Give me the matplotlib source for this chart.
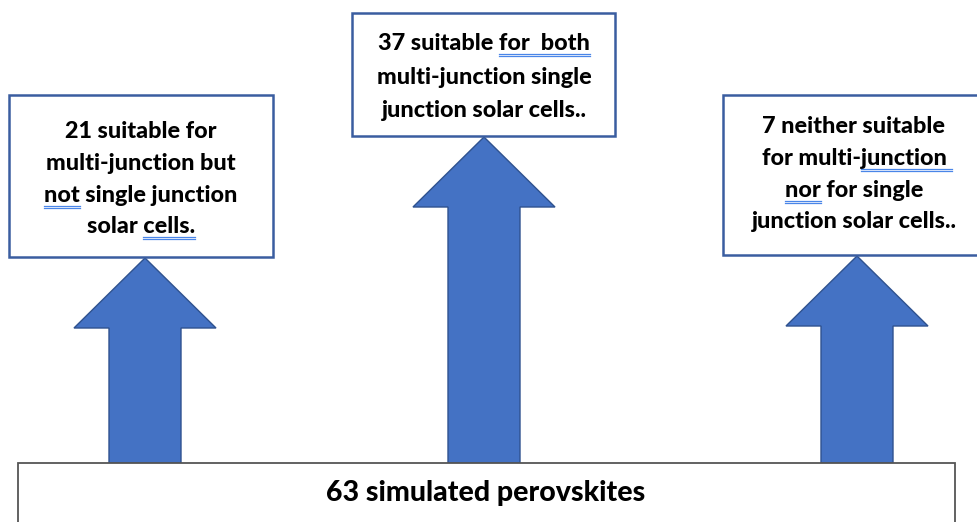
import matplotlib.pyplot as plt
from matplotlib.patches import Rectangle, Polygon
from matplotlib.font_manager import FontProperties

plt.rcParams['font.family'] = ['Lato', 'DejaVu Sans']

# counts of perovskites in each group
total = 63
counts = [21, 37, 7]

box_lines = [
    [f"{counts[0]} suitable for", "multi-junction but", "not single junction", "solar cells."],
    [f"{counts[1]} suitable for  both", "multi-junction single", "junction solar cells.."],
    [f"{counts[2]} neither suitable", "for multi-junction", "nor for single", "junction solar cells.."],
]
base_label = f"{total} simulated perovskites"

# words flagged with the blue double underline: (box, line, word, extra space)
flagged = [(0, 2, "not", 0), (0, 3, "cells.", 0), (1, 0, "for  both", 0),
           (2, 1, "junction", 1), (2, 2, "nor", 0)]

# layout in pixels (y downwards)
boxes = [(9, 95, 273, 257), (352, 13, 615, 136), (723, 95, 984, 255)]
text_cx = [141, 484, 854]
baselines = [[138, 170, 202, 233], [50, 84, 117], [133, 165, 197, 228]]
arrow_cx = [145, 484, 857]
base_top = 463

blue = '#4472c4'
edge = '#2f528f'

fig = plt.figure(figsize=(9.78, 5.22), dpi=100)
ax = fig.add_axes([0, 0, 1, 1])
ax.set_xlim(0, 978)
ax.set_ylim(522, 0)
ax.axis('off')

renderer = fig.canvas.get_renderer()
fp = FontProperties(family=['Lato', 'DejaVu Sans'], weight='black', size=16.8)


def width(s):
    # text width in pixels, trailing spaces kept
    w_dot = renderer.get_text_width_height_descent('.', fp, ismath=False)[0]
    return renderer.get_text_width_height_descent(s + '.', fp, ismath=False)[0] - w_dot


# arrows from the bottom box up to each text box
for cx, (x0, y0, x1, y1) in zip(arrow_cx, boxes):
    tip = y1 + 1
    head = tip + 70
    pts = [(cx, tip), (cx + 71, head), (cx + 36, head), (cx + 36, base_top),
           (cx - 36, base_top), (cx - 36, head), (cx - 71, head)]
    ax.add_patch(Polygon(pts, closed=True, facecolor=blue, edgecolor=edge, lw=1, zorder=2))

# text boxes
for (x0, y0, x1, y1), lines, cx, ys in zip(boxes, box_lines, text_cx, baselines):
    ax.add_patch(Rectangle((x0, y0), x1 - x0, y1 - y0, facecolor='white',
                           edgecolor='#3a5da0', lw=1.8, zorder=3))
    for line, y in zip(lines, ys):
        ax.text(cx, y, line, fontproperties=fp, ha='center', va='baseline',
                color='black', zorder=4)

# spell-check underlines
for b, l, word, extra in flagged:
    line = box_lines[b][l]
    i = line.index(word)
    x_start = text_cx[b] - width(line) / 2
    a = x_start + width(line[:i])
    e = x_start + width(line[:i + len(word)]) + extra * width(' ')
    y = baselines[b][l]
    for dy in (4, 6):
        ax.plot([a, e], [y + dy, y + dy], color='#4a86e8', lw=0.9, zorder=5)

# bottom box
ax.add_patch(Rectangle((18, base_top), 955 - 18, 80, facecolor='white',
                       edgecolor='#555555', lw=1.3, zorder=3))
ax.text(486, 501, base_label, family=['Lato', 'DejaVu Sans'], weight='black',
        size=20.5, ha='center', va='baseline', color='black', zorder=4)

fig.savefig('out.png', dpi=100)
